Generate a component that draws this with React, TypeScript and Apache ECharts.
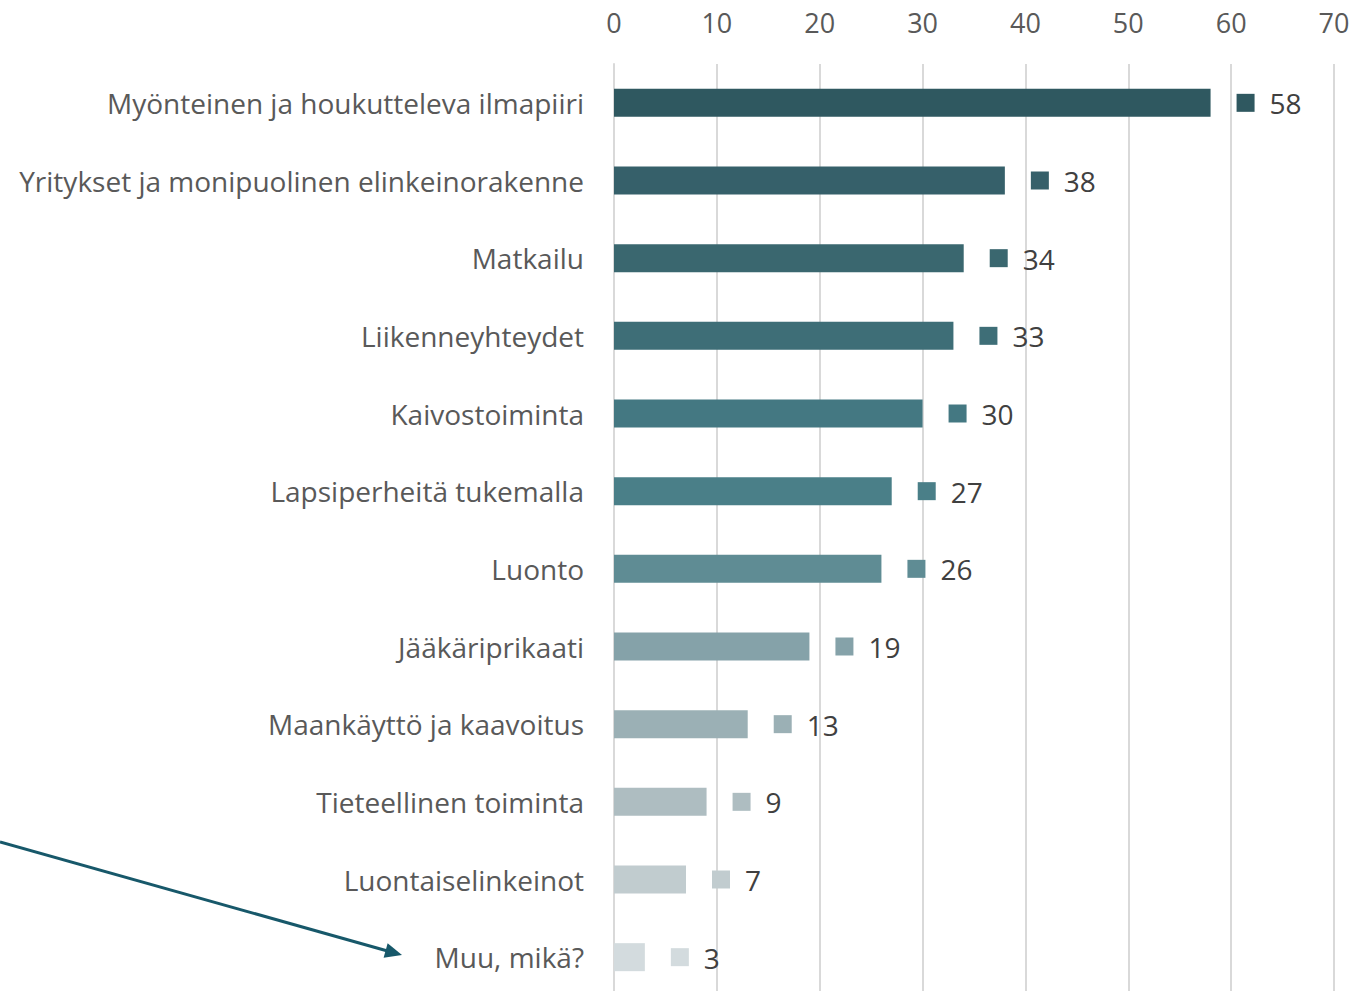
import React, { useEffect, useRef } from "react";
import * as echarts from "echarts";

const categories = [
  "Myönteinen ja houkutteleva ilmapiiri",
  "Yritykset ja monipuolinen elinkeinorakenne",
  "Matkailu",
  "Liikenneyhteydet",
  "Kaivostoiminta",
  "Lapsiperheitä tukemalla",
  "Luonto",
  "Jääkäriprikaati",
  "Maankäyttö ja kaavoitus",
  "Tieteellinen toiminta",
  "Luontaiselinkeinot",
  "Muu, mikä?",
];
const values = [58, 38, 34, 33, 30, 27, 26, 19, 13, 9, 7, 3];
const colors = [
  "#2F5860", "#36606A", "#3A676F", "#3E6E77", "#447882", "#4A7F88",
  "#5F8C94", "#85A2A9", "#9BB0B5", "#AEBDC1", "#C1CCCF", "#D3DBDE",
];
const xTicks = [0, 10, 20, 30, 40, 50, 60, 70];

const FONT = "'Open Sans', sans-serif";

export default function App() {
  const ref = useRef<HTMLDivElement>(null);
  useEffect(() => {
    if (!ref.current) return;
    const chart = echarts.init(ref.current, null, { renderer: "svg" });
    const tip = [402, 955];
    const ux = 0.963, uy = 0.268;
    const len = 17, hw = 7.5;
    const bx = tip[0] - ux * len, by = tip[1] - uy * len;
    chart.setOption({
      animation: false,
      backgroundColor: "#ffffff",
      grid: { left: 614, right: 36, top: 64, bottom: 4, containLabel: false },
      xAxis: {
        type: "value",
        position: "top",
        min: xTicks[0],
        max: xTicks[xTicks.length - 1],
        interval: 10,
        axisLine: { show: false },
        axisTick: { show: false },
        axisLabel: { fontFamily: FONT, fontSize: 27, color: "#595959", margin: 28 },
        splitLine: { show: true, lineStyle: { color: "#D9D9D9", width: 2 } },
      },
      yAxis: {
        type: "category",
        inverse: true,
        data: categories,
        axisLine: { show: true, lineStyle: { color: "#D9D9D9", width: 2 } },
        axisTick: { show: false },
        axisLabel: {
          fontFamily: FONT,
          fontSize: 28,
          color: "#595959",
          margin: 30,
          padding: [0, 0, 4, 0],
        },
      },
      series: [
        {
          type: "bar",
          barWidth: 28,
          data: values.map((v, i) => ({
            value: v,
            itemStyle: { color: colors[i] },
            label: {
              show: true,
              position: "right",
              distance: 26,
              formatter: "{sq|}{v|" + v + "}",
              rich: {
                sq: { width: 18, height: 18, backgroundColor: colors[i] },
                v: { fontFamily: FONT, fontSize: 28, color: "#404040", padding: [1, 0, 0, 15] },
              },
            },
          })),
        },
      ],
      graphic: [
        {
          type: "line",
          shape: { x1: 0, y1: 842, x2: bx + ux * 2, y2: by + uy * 2 },
          style: { stroke: "#17586A", lineWidth: 3 },
        },
        {
          type: "polygon",
          shape: {
            points: [
              [tip[0], tip[1]],
              [bx - uy * hw, by + ux * hw],
              [bx + uy * hw, by - ux * hw],
            ],
          },
          style: { fill: "#17586A" },
        },
      ],
    });
    return () => chart.dispose();
  }, []);
  return (
    <div
      ref={ref}
      style={{ position: "fixed", left: 0, top: 0, width: 1370, height: 1000 }}
    />
  );
}
